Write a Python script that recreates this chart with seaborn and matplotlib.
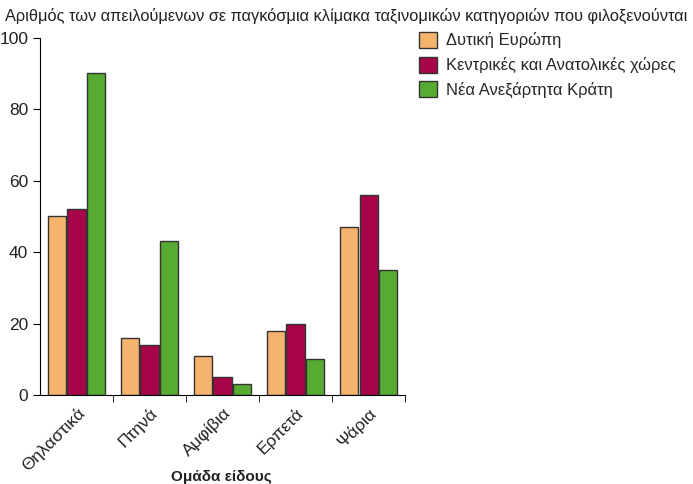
import pandas as pd
import seaborn as sns
import matplotlib.pyplot as plt

groups = ["Θηλαστικά", "Πτηνά", "Αμφίβια", "Ερπετά", "Ψάρια"]
regions = ["Δυτική Ευρώπη", "Κεντρικές και Ανατολικές χώρες", "Νέα Ανεξάρτητα Κράτη"]
west = [50, 16, 11, 18, 47]
central_east = [52, 14, 5, 20, 56]
nis = [90, 43, 3, 10, 35]
colors = ["#F5B46E", "#A8044A", "#58AB31"]

d = pd.DataFrame({
    "group": groups * 3,
    "region": [r for r in regions for _ in groups],
    "value": west + central_east + nis,
})

sns.set_style("ticks")
plt.rcParams["font.family"] = ["Liberation Sans", "DejaVu Sans"]

fig = plt.figure(figsize=(6.93, 4.84), dpi=100)
ax = fig.add_axes([0.0577, 0.184, 0.527, 0.738])
sns.barplot(data=d, x="group", y="value", hue="region", palette=colors,
            saturation=1, width=0.8, edgecolor="#333333", linewidth=1,
            gap=0.06, ax=ax)

ax.set_xlim(-0.5, 4.5)
ax.set_ylim(0, 100)
ax.set_yticks([0, 20, 40, 60, 80, 100])
ax.tick_params(axis="y", labelsize=12.5, length=5, color="black", labelcolor="#222222")
ax.set_xticks(range(len(groups)))
ax.set_xticklabels(groups, rotation=45, ha="right", rotation_mode="anchor",
                   fontsize=12.5, color="#222222")
ax.tick_params(axis="x", length=0, pad=7)
ax.set_xticks([0.5, 1.5, 2.5, 3.5, 4.5], minor=True)
ax.tick_params(axis="x", which="minor", length=5, color="black")
ax.set_xlabel("")
ax.set_ylabel("")
sns.despine(ax=ax)
for s in ["left", "bottom"]:
    ax.spines[s].set_color("black")

fig.text(0.007, 0.968, "Αριθμός των απειλούμενων σε παγκόσμια κλίμακα ταξινομικών κατηγοριών που φιλοξενούνται",
         fontsize=11.8, ha="left", va="center", color="#222222")
fig.text(0.32, 0.014, "Ομάδα είδους", fontsize=11, fontweight="bold",
         ha="center", va="center", color="#222222")

ax.legend(loc="upper left", bbox_to_anchor=(1.02, 1.035), frameon=False,
          fontsize=11.9, handlelength=1.1, handleheight=1.1, handletextpad=0.55,
          labelspacing=0.5, borderaxespad=0)

plt.savefig("out.png", dpi=100)
